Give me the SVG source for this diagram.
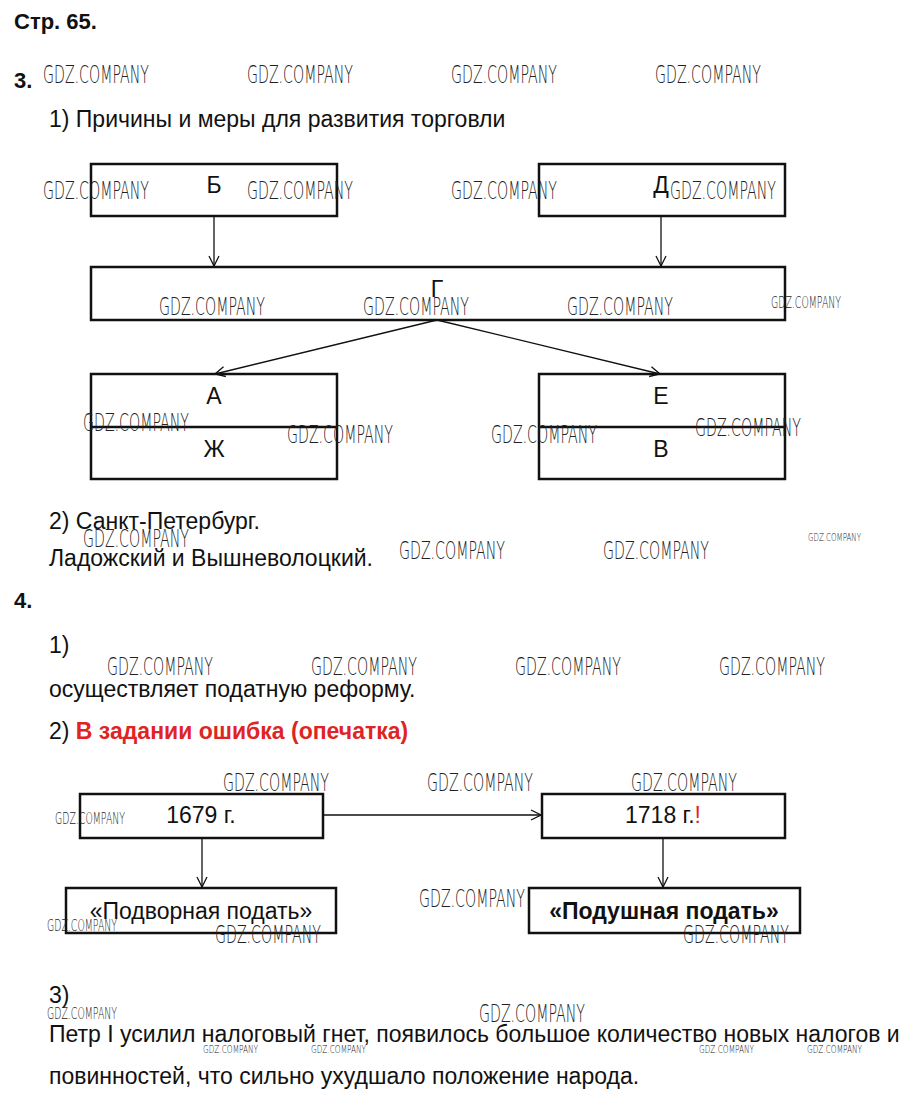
<svg xmlns="http://www.w3.org/2000/svg" width="908" height="1100" viewBox="0 0 908 1100">
<defs>
<style>
.t{font-family:"Liberation Sans",Arial,sans-serif;font-size:23px;fill:#111}
.b{font-weight:bold}
.c{text-anchor:middle}
.red{fill:#e02424;font-weight:bold}
.box{fill:none;stroke:#111;stroke-width:2.5}
.ln{fill:none;stroke:#111;stroke-width:1.3}
.wm{font-family:"DejaVu Sans","Liberation Sans",sans-serif;font-size:24px;fill:#222;font-weight:200}
.ws{font-family:"DejaVu Sans","Liberation Sans",sans-serif;font-size:15px;fill:#222;font-weight:200}
.wt{font-family:"DejaVu Sans","Liberation Sans",sans-serif;font-size:11px;fill:#222;font-weight:200}
</style>
<marker id="ar" viewBox="0 0 12 12" refX="11" refY="6" markerWidth="12" markerHeight="12" markerUnits="userSpaceOnUse" orient="auto">
<path d="M1,1 L11,6 L1,11" fill="none" stroke="#111" stroke-width="1.3"/>
</marker>
</defs>
<rect width="908" height="1100" fill="#fff"/>

<text class="t b" x="14" y="29" style="font-size:22px">Стр. 65.</text>
<text class="t b" x="14" y="88" style="font-size:22px">3.</text>
<text class="t" x="49" y="127">1) Причины и меры для развития торговли</text>

<g id="connectors">
<line class="ln" x1="214" y1="216" x2="214" y2="266" marker-end="url(#ar)"/>
<line class="ln" x1="661" y1="216" x2="661" y2="266" marker-end="url(#ar)"/>
<line class="ln" x1="437" y1="320" x2="215" y2="374" marker-end="url(#ar)"/>
<line class="ln" x1="437" y1="320" x2="660" y2="374" marker-end="url(#ar)"/>
<line class="ln" x1="323" y1="815" x2="541" y2="815" marker-end="url(#ar)"/>
<line class="ln" x1="202" y1="838" x2="202" y2="887" marker-end="url(#ar)"/>
<line class="ln" x1="663" y1="838" x2="663" y2="887" marker-end="url(#ar)"/>
</g>

<g id="node-b"><rect class="box" x="91" y="164" width="246" height="52"/><text class="t c" x="214" y="193">Б</text></g>
<g id="node-d"><rect class="box" x="539" y="164" width="246" height="52"/><text class="t c" x="661" y="193">Д</text></g>
<g id="node-g"><rect class="box" x="91" y="267" width="694" height="53"/><text class="t c" x="437" y="297">Г</text></g>
<g id="node-a-zh"><rect class="box" x="91" y="374" width="246" height="105"/><line class="box" x1="91" y1="427" x2="337" y2="427"/><text class="t c" x="214" y="404">А</text><text class="t c" x="214" y="457">Ж</text></g>
<g id="node-e-v"><rect class="box" x="539" y="374" width="246" height="105"/><line class="box" x1="539" y1="427" x2="785" y2="427"/><text class="t c" x="661" y="404">Е</text><text class="t c" x="661" y="457">В</text></g>

<text class="t" x="49" y="529">2) Санкт-Петербург.</text>
<text class="t" x="49" y="566">Ладожский и Вышневолоцкий.</text>
<text class="t b" x="14" y="608" style="font-size:22px">4.</text>
<text class="t" x="49" y="653">1)</text>
<text class="t" x="49" y="697">осуществляет податную реформу.</text>
<text class="t" x="49" y="739">2) <tspan class="red">В задании ошибка (опечатка)</tspan></text>

<g id="node-1679"><rect class="box" x="80" y="794" width="243" height="44"/><text class="t c" x="201" y="823">1679 г.</text></g>
<g id="node-1718"><rect class="box" x="542" y="794" width="243" height="44"/><text class="t c" x="663" y="823">1718 г.<tspan class="red" style="font-weight:normal">!</tspan></text></g>
<g id="node-podvor"><rect class="box" x="66" y="888" width="270" height="45"/><text class="t c" x="201" y="919">«Подворная подать»</text></g>
<g id="node-podush"><rect class="box" x="529" y="888" width="271" height="45"/><text class="t c b" x="664" y="919">«Подушная подать»</text></g>

<text class="t" x="49" y="1003">3)</text>
<text class="t" x="49" y="1042">Петр I усилил налоговый гнет, появилось большое количество новых налогов и</text>
<text class="t" x="49" y="1084">повинностей, что сильно ухудшало положение народа.</text>

<g id="watermarks">
<text class="wm" x="43" y="83" textLength="106" lengthAdjust="spacingAndGlyphs">GDZ.COMPANY</text>
<text class="wm" x="247" y="83" textLength="106" lengthAdjust="spacingAndGlyphs">GDZ.COMPANY</text>
<text class="wm" x="451" y="83" textLength="106" lengthAdjust="spacingAndGlyphs">GDZ.COMPANY</text>
<text class="wm" x="655" y="83" textLength="106" lengthAdjust="spacingAndGlyphs">GDZ.COMPANY</text>
<text class="wm" x="43" y="199" textLength="106" lengthAdjust="spacingAndGlyphs">GDZ.COMPANY</text>
<text class="wm" x="247" y="199" textLength="106" lengthAdjust="spacingAndGlyphs">GDZ.COMPANY</text>
<text class="wm" x="451" y="199" textLength="106" lengthAdjust="spacingAndGlyphs">GDZ.COMPANY</text>
<text class="wm" x="670" y="199" textLength="106" lengthAdjust="spacingAndGlyphs">GDZ.COMPANY</text>
<text class="wm" x="159" y="315" textLength="106" lengthAdjust="spacingAndGlyphs">GDZ.COMPANY</text>
<text class="wm" x="363" y="315" textLength="106" lengthAdjust="spacingAndGlyphs">GDZ.COMPANY</text>
<text class="wm" x="567" y="315" textLength="106" lengthAdjust="spacingAndGlyphs">GDZ.COMPANY</text>
<text class="ws" x="771" y="308" textLength="70" lengthAdjust="spacingAndGlyphs">GDZ.COMPANY</text>
<text class="wm" x="83" y="431" textLength="106" lengthAdjust="spacingAndGlyphs">GDZ.COMPANY</text>
<text class="wm" x="287" y="443" textLength="106" lengthAdjust="spacingAndGlyphs">GDZ.COMPANY</text>
<text class="wm" x="491" y="443" textLength="106" lengthAdjust="spacingAndGlyphs">GDZ.COMPANY</text>
<text class="wm" x="695" y="436" textLength="106" lengthAdjust="spacingAndGlyphs">GDZ.COMPANY</text>
<text class="wm" x="83" y="547" textLength="106" lengthAdjust="spacingAndGlyphs">GDZ.COMPANY</text>
<text class="wm" x="399" y="559" textLength="106" lengthAdjust="spacingAndGlyphs">GDZ.COMPANY</text>
<text class="wm" x="603" y="559" textLength="106" lengthAdjust="spacingAndGlyphs">GDZ.COMPANY</text>
<text class="wt" x="808" y="541" textLength="53" lengthAdjust="spacingAndGlyphs">GDZ.COMPANY</text>
<text class="wm" x="107" y="675" textLength="106" lengthAdjust="spacingAndGlyphs">GDZ.COMPANY</text>
<text class="wm" x="311" y="675" textLength="106" lengthAdjust="spacingAndGlyphs">GDZ.COMPANY</text>
<text class="wm" x="515" y="675" textLength="106" lengthAdjust="spacingAndGlyphs">GDZ.COMPANY</text>
<text class="wm" x="719" y="675" textLength="106" lengthAdjust="spacingAndGlyphs">GDZ.COMPANY</text>
<text class="wm" x="223" y="791" textLength="106" lengthAdjust="spacingAndGlyphs">GDZ.COMPANY</text>
<text class="wm" x="427" y="791" textLength="106" lengthAdjust="spacingAndGlyphs">GDZ.COMPANY</text>
<text class="wm" x="631" y="791" textLength="106" lengthAdjust="spacingAndGlyphs">GDZ.COMPANY</text>
<text class="ws" x="55" y="824" textLength="70" lengthAdjust="spacingAndGlyphs">GDZ.COMPANY</text>
<text class="wm" x="419" y="907" textLength="106" lengthAdjust="spacingAndGlyphs">GDZ.COMPANY</text>
<text class="ws" x="47" y="931" textLength="70" lengthAdjust="spacingAndGlyphs">GDZ.COMPANY</text>
<text class="wm" x="215" y="943" textLength="106" lengthAdjust="spacingAndGlyphs">GDZ.COMPANY</text>
<text class="wm" x="683" y="943" textLength="106" lengthAdjust="spacingAndGlyphs">GDZ.COMPANY</text>
<text class="ws" x="47" y="1019" textLength="70" lengthAdjust="spacingAndGlyphs">GDZ.COMPANY</text>
<text class="wm" x="479" y="1022" textLength="106" lengthAdjust="spacingAndGlyphs">GDZ.COMPANY</text>
<text class="wt" x="203" y="1053" textLength="55" lengthAdjust="spacingAndGlyphs">GDZ.COMPANY</text>
<text class="wt" x="311" y="1053" textLength="55" lengthAdjust="spacingAndGlyphs">GDZ.COMPANY</text>
<text class="wt" x="699" y="1053" textLength="55" lengthAdjust="spacingAndGlyphs">GDZ.COMPANY</text>
<text class="wt" x="807" y="1053" textLength="55" lengthAdjust="spacingAndGlyphs">GDZ.COMPANY</text>
</g>
</svg>
